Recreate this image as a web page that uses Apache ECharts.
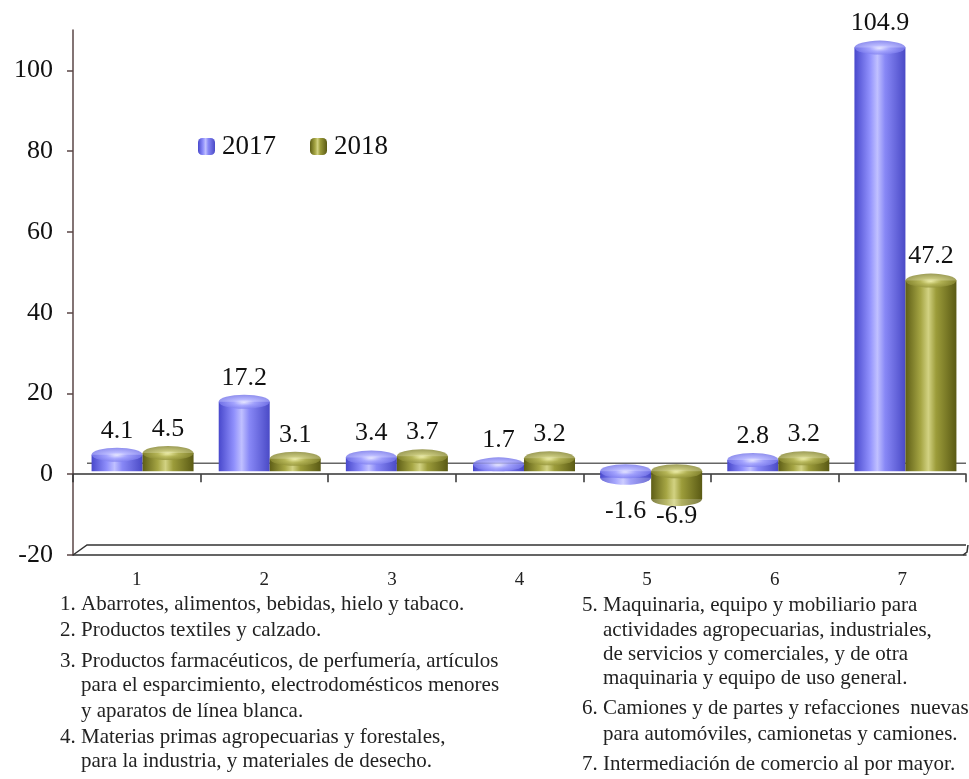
<!DOCTYPE html>
<html>
<head>
<meta charset="utf-8">
<script src="https://cdn.jsdelivr.net/npm/echarts@6/dist/echarts.min.js"></script>
<style>
  html, body { margin: 0; padding: 0; background: #fff; }
  #chart { width: 969px; height: 779px; }
</style>
</head>
<body>
<div id="chart"></div>
<script>
// datos
const categories = ['1', '2', '3', '4', '5', '6', '7']
const values2017 = [4.1, 17.2, 3.4, 1.7, -1.6, 2.8, 104.9]
const values2018 = [4.5, 3.1, 3.7, 3.2, -6.9, 3.2, 47.2]
const yTicks = [-20, 0, 20, 40, 60, 80, 100]
const notesLeft = [
  ['1. Abarrotes, alimentos, bebidas, hielo y tabaco.', 0],
  ['2. Productos textiles y calzado.', 0],
  ['3. Productos farmacéuticos, de perfumería, artículos', 0],
  ['para el esparcimiento, electrodomésticos menores', 1],
  ['y aparatos de línea blanca.', 1],
  ['4. Materias primas agropecuarias y forestales,', 0],
  ['para la industria, y materiales de desecho.', 1]
]
const notesRight = [
  ['5. Maquinaria, equipo y mobiliario para', 0],
  ['actividades agropecuarias, industriales,', 1],
  ['de servicios y comerciales, y de otra', 1],
  ['maquinaria y equipo de uso general.', 1],
  ['6. Camiones y de partes y refacciones  nuevas', 0],
  ['para automóviles, camionetas y camiones.', 1],
  ['7. Intermediación de comercio al por mayor.', 0]
]

const FONT = 'Liberation Serif'
const G = { left: 73, top: 30, width: 893, height: 525 }
const BW = 51

const grad = (stops) => new echarts.graphic.LinearGradient(0, 0, 1, 0,
  stops.map(s => ({ offset: s[0], color: s[1] })))
const blueBody = grad([[0, '#4848cc'], [0.3, '#9090fc'], [0.45, '#c0c0ff'], [0.6, '#8888f6'], [1, '#4a4ac6']])
const oliveBody = grad([[0, '#5e5e16'], [0.3, '#a6a644'], [0.45, '#d2d282'], [0.6, '#9c9c3a'], [1, '#5a5a14']])
const blueTop = new echarts.graphic.RadialGradient(0.5, 0.55, 0.6, [
  { offset: 0, color: '#eeeeff' }, { offset: 0.35, color: '#a8a8ff' }, { offset: 1, color: '#6a6ae6' }])
const oliveTop = new echarts.graphic.RadialGradient(0.5, 0.55, 0.6, [
  { offset: 0, color: '#f4f4b0' }, { offset: 0.35, color: '#b8b85a' }, { offset: 1, color: '#7c7c26' }])

function barData (vals) {
  return vals.map(v => ({
    value: v,
    label: { position: v < 0 ? 'bottom' : 'top', distance: v < 0 ? (v > -4 ? 20 : 4) : 11 }
  }))
}
function topData (vals) {
  return vals.map((v, i) => [i, Math.max(0, v)])
}
function bottomData (vals) {
  return vals.map((v, i) => v < 0 ? [i, v] : [i, '-'])
}

const labelStyle = {
  show: true,
  fontFamily: FONT,
  fontSize: 26,
  color: '#111',
  formatter: p => p.value.toFixed(1)
}

function cylinder (name, vals, body, top, off) {
  return [
    {
      name: name,
      type: 'bar',
      xAxisIndex: 2,
      yAxisIndex: 1,
      barWidth: BW,
      barGap: '0%',
      itemStyle: { color: body },
      label: labelStyle,
      data: barData(vals),
      z: 3
    },
    {
      name: name + '-top',
      type: 'scatter',
      xAxisIndex: 2,
      yAxisIndex: 1,
      symbol: 'circle',
      symbolSize: [BW, 14],
      symbolOffset: [off, 0],
      itemStyle: { color: top },
      data: topData(vals),
      z: 4,
      silent: true
    },
    {
      name: name + '-base',
      type: 'scatter',
      xAxisIndex: 2,
      yAxisIndex: 1,
      symbol: 'circle',
      symbolSize: [BW, 14],
      symbolOffset: [off, 0],
      itemStyle: { color: body },
      data: bottomData(vals),
      z: 2,
      silent: true
    }
  ]
}

const chart = echarts.init(document.getElementById('chart'))

// lineas del "piso" 3D
const yOf = v => G.top + (110 - v) / 130 * G.height
const floorY = G.top + G.height
const graphics = [
  { type: 'polyline', z: 1, shape: { points: [[G.left, floorY], [G.left + 14, floorY - 10], [G.left + G.width, floorY - 10]] },
    style: { stroke: '#333', lineWidth: 1.5, fill: null } },
  { type: 'polyline', z: 1, shape: { points: [[G.left + G.width - 3, floorY], [G.left + G.width + 1, floorY - 3], [G.left + G.width + 2, floorY - 10]] },
    style: { stroke: '#333', lineWidth: 1.5, fill: null } },
  { type: 'line', z: 1, shape: { x1: G.left + 14, y1: yOf(0) - 11, x2: G.left + G.width, y2: yOf(0) - 11 },
    style: { stroke: '#666', lineWidth: 1.5 } }
]
const leftY = [606, 632, 663, 687, 713, 739, 763]
const rightY = [607, 632, 656, 680, 710, 736, 766]
const noteFont = '21px "Liberation Serif"'
notesLeft.forEach((n, i) => graphics.push({
  type: 'text', left: n[1] ? 81 : 60, top: leftY[i] - 12,
  style: { text: n[0], font: noteFont, fill: '#222' }
}))
notesRight.forEach((n, i) => graphics.push({
  type: 'text', left: n[1] ? 603 : 582, top: rightY[i] - 12,
  style: { text: n[0], font: noteFont, fill: '#222' }
}))

const option = {
  backgroundColor: '#fff',
  animation: false,
  textStyle: { fontFamily: FONT },
  grid: [
    { left: G.left, top: G.top, width: G.width, height: G.height },
    { left: G.left + 6, top: G.top - 3, width: G.width, height: G.height }
  ],
  legend: {
    data: ['2017', '2018'],
    left: 193,
    top: 128,
    itemWidth: 17,
    itemHeight: 17,
    itemGap: 34,
    textStyle: { fontFamily: FONT, fontSize: 27, color: '#111', padding: [0, 0, 0, 2] }
  },
  xAxis: [
    {
      type: 'category',
      gridIndex: 0,
      data: categories,
      axisLine: { onZero: true, lineStyle: { color: '#333', width: 1.5 } },
      axisTick: { show: true, length: 8, lineStyle: { color: '#333', width: 1.5 } },
      axisLabel: { show: false }
    },
    {
      type: 'category',
      gridIndex: 0,
      position: 'bottom',
      data: categories,
      axisLine: { onZero: false, lineStyle: { color: '#333', width: 1.5 } },
      axisTick: { show: false },
      axisLabel: { margin: 16, fontFamily: FONT, fontSize: 19, color: '#222' }
    },
    {
      type: 'category',
      gridIndex: 1,
      data: categories,
      show: false
    }
  ],
  yAxis: [
    {
      type: 'value',
      gridIndex: 0,
      min: -20,
      max: 110,
      interval: 20,
      splitLine: { show: false },
      axisLine: { show: true, onZero: false, lineStyle: { color: '#5a4646', width: 1.5 } },
      axisTick: { show: true, length: 6, customValues: yTicks, lineStyle: { color: '#5a4646', width: 1.5 } },
      axisLabel: { margin: 20, fontFamily: FONT, fontSize: 26, color: '#111', customValues: yTicks }
    },
    {
      type: 'value',
      gridIndex: 1,
      min: -20,
      max: 110,
      show: false,
      splitLine: { show: false }
    }
  ],
  series: [
    ...cylinder('2017', values2017, blueBody, blueTop, -BW / 2),
    ...cylinder('2018', values2018, oliveBody, oliveTop, BW / 2)
  ],
  graphic: graphics
}

chart.setOption(option)
</script>
</body>
</html>
